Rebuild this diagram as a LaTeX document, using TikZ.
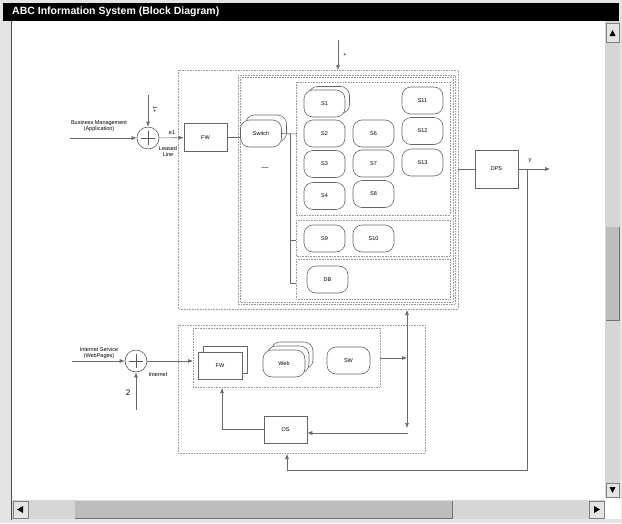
\documentclass[tikz,border=0pt]{standalone}
\usepackage{fontspec}
\setmainfont{Liberation Sans}
\usetikzlibrary{arrows.meta,positioning}
\definecolor{winback}{HTML}{E4E4E4}
\definecolor{scrolltrack}{HTML}{D6D6D6}
\definecolor{scrollthumb}{HTML}{BDBDBD}
\definecolor{wirecol}{HTML}{6A6A6A}
\tikzset{
  >={Latex[length=5pt,width=4pt]},
  srv/.style={draw=black!60, line width=0.6pt, rounded corners=9pt, minimum width=41pt,
    minimum height=27pt, fill=white, inner sep=0pt, font=\fontsize{5.5}{6}\selectfont},
  blk/.style={draw=black!60, line width=0.6pt, minimum width=43pt, minimum height=28pt,
    fill=white, inner sep=0pt, font=\fontsize{5.5}{6}\selectfont},
  grp/.style={draw=black!40, densely dotted, line width=0.6pt},
  sumj/.style={circle, draw=black!65, line width=0.6pt, minimum size=22pt, inner sep=0pt,
    path picture={\draw[black!65, line width=0.6pt]
      ([yshift=-7pt]path picture bounding box.center) -- ([yshift=7pt]path picture bounding box.center)
      ([xshift=-7pt]path picture bounding box.center) -- ([xshift=7pt]path picture bounding box.center);}},
  lbl/.style={inner sep=0pt, font=\fontsize{5.5}{6}\selectfont},
  wire/.style={draw=wirecol, line width=0.6pt},
  btn/.style={fill=winback, draw=black!50, line width=0.5pt},
}
\begin{document}
\begin{tikzpicture}[x=1pt, y=-1pt]
  \useasboundingbox (0,0) rectangle (622,523);
  % window frame
  \fill[winback] (0,0) rectangle (622,523);
  \fill[black] (3,3) rectangle (619,21);
  \node[anchor=west, inner sep=0pt, text=white, font=\fontsize{10.5}{12}\selectfont\bfseries]
    (title) at (12,12) {ABC Information System (Block Diagram)};
  \fill[white] (12,21) rectangle (605,500);
  \draw[black!70, line width=1pt] (11,21) -- (11,520);
  % scroll bars
  \fill[scrolltrack] (605,21) rectangle (620,498);
  \fill[scrolltrack] (12,500) rectangle (605,519);
  \draw[btn] (606,23) rectangle (619,42);
  \fill[black] (609.5,36) -- (615.5,36) -- (612.5,30) -- cycle;
  \fill[scrollthumb] (606,227) rectangle (619,320);
  \draw[black!55, line width=0.8pt] (619,227) -- (619,320) -- (606,320);
  \draw[btn] (606,483) rectangle (619,497);
  \fill[black] (609.5,487) -- (615.5,487) -- (612.5,493) -- cycle;
  \draw[btn] (13,501) rectangle (28,518);
  \fill[black] (23,506) -- (23,513) -- (17,509.5) -- cycle;
  \fill[scrollthumb] (75,501) rectangle (452,518);
  \draw[black!55, line width=0.8pt] (75,518) -- (452,518) -- (452,501);
  \draw[btn] (589,501) rectangle (604,518);
  \fill[black] (594,506) -- (594,513) -- (600,509.5) -- cycle;
  \fill[white] (605,498) rectangle (621,519);

  % upper part
  \draw[grp] (178,70) rectangle (458,309);
  \draw[grp] (238,75) rectangle (455,304);
  \draw[grp] (240,77) rectangle (453,302);
  \draw[grp] (296,82) rectangle (450,215);
  \draw[grp] (296,220) rectangle (450,256);
  \draw[grp] (296,259) rectangle (450,299);

  \node[srv] (s1b) at (329,100) {};
  \node[srv] (s1) at (324.5,103.5) {S1};
  \node[srv] (s2) at (324.5,133.5) {S2};
  \node[srv] (s3) at (324.5,164) {S3};
  \node[srv] (s4) at (324.5,196) {S4};
  \node[srv] (s6) at (373.5,133.5) {S6};
  \node[srv] (s7) at (373.5,163.5) {S7};
  \node[srv] (s8) at (373.5,194) {S8};
  \node[srv] (s11) at (422.5,100.5) {S11};
  \node[srv] (s12) at (422.5,131) {S12};
  \node[srv] (s13) at (422.5,162.5) {S13};
  \node[srv] (s9) at (324.5,238.5) {S9};
  \node[srv] (s10) at (373.5,238.5) {S10};
  \node[srv] (db) at (327.5,279.5) {DB};

  \node[srv] (swb) at (266,128.5) {};
  \node[srv] (sw) at (261,133.5) {Switch};
  \node[inner sep=0pt, font=\fontsize{7}{8}\selectfont] (dash) at (265,168) {---};

  \node[blk] (fw) at (205.5,137.5) {FW};
  \node[sumj] (sum1) at (148,138) {};
  \coordinate (bmin) at (70,138);
  \coordinate (ref1) at (148,95);
  \node[lbl, align=center] (bmlbl) at (99,126) {Business Management\\(Application)};
  \node[lbl, rotate=-90] (r1lbl) at (155,110) {1+};
  \node[lbl] (e1) at (172,133) {e1};
  \node[lbl, align=center] (leased) at (168,152) {Leased\\Line};
  \draw[wire, ->] (bmin) -- (sum1);
  \draw[wire, ->] (ref1) -- (sum1);
  \draw[wire, ->] (sum1) -- (fw);
  \draw[wire] (fw.east) -- (fw.east -| sw.west);

  % switch bus
  \coordinate (bus) at (290,134);
  \draw[wire] (sw.east) -- (297,134);
  \draw[wire] (bus) -- (290,283) -- (296,283);
  \draw[wire] (290,240) -- (296,240);

  % top input
  \coordinate (topin) at (338,40);
  \node[lbl] (toplbl) at (345,55) {+};
  \draw[wire, ->] (topin) -- (338,70);

  % DPS and output
  \node[blk, minimum height=38pt] (dps) at (496.5,169) {DPS};
  \coordinate (upout) at (458,169);
  \coordinate (yout) at (550,169);
  \coordinate (ytap) at (527,169);
  \node[lbl] (ylbl) at (530,161) {y};
  \draw[wire] (upout) -- (dps);
  \draw[wire, ->] (dps) -- (yout);
  \draw[wire, ->] (ytap) -- (527,470) -- (287,470) -- (287,454);

  % lower part
  \draw[grp] (178,325) rectangle (425,453);
  \draw[grp] (193,328) rectangle (380,387);
  \node[blk, minimum width=44pt, minimum height=27pt] (fw2b) at (225,360) {};
  \node[blk, minimum width=44pt, minimum height=27pt] (fw2) at (220,365.5) {FW};
  \node[srv, minimum width=42pt] (webc) at (292,355.5) {};
  \node[srv, minimum width=42pt] (webb) at (288,359.5) {};
  \node[srv, minimum width=42pt] (web) at (284,363.5) {Web};
  \node[srv, minimum width=43pt] (swlow) at (348.5,360.5) {SW};
  \node[blk, minimum height=27pt] (os) at (285.5,429.5) {OS};

  \node[sumj] (sum2) at (136,361) {};
  \coordinate (isin) at (72,361);
  \coordinate (ref2) at (136,410);
  \node[lbl, align=center] (islbl) at (99,353) {Internet Service\\(WebPages)};
  \node[inner sep=0pt, font=\fontsize{8}{9}\selectfont] (two) at (128,393) {2};
  \node[lbl] (inet) at (158,375) {Internet};
  \draw[wire, ->] (isin) -- (sum2);
  \draw[wire, ->] (ref2) -- (sum2);
  \draw[wire, ->] (sum2) -- (193,361);

  \coordinate (jn) at (407,358);
  \draw[wire, ->] (380,358) -- (jn);
  \draw[wire, ->] (jn) -- (407,310);
  \draw[wire, ->] (jn) -- (407,428);
  \draw[wire, ->] (408,433) -- (os.east |- 0,433);
  \draw[wire, ->] (os.west) -- (222,429.5) -- (222,388);
\end{tikzpicture}
\end{document}
